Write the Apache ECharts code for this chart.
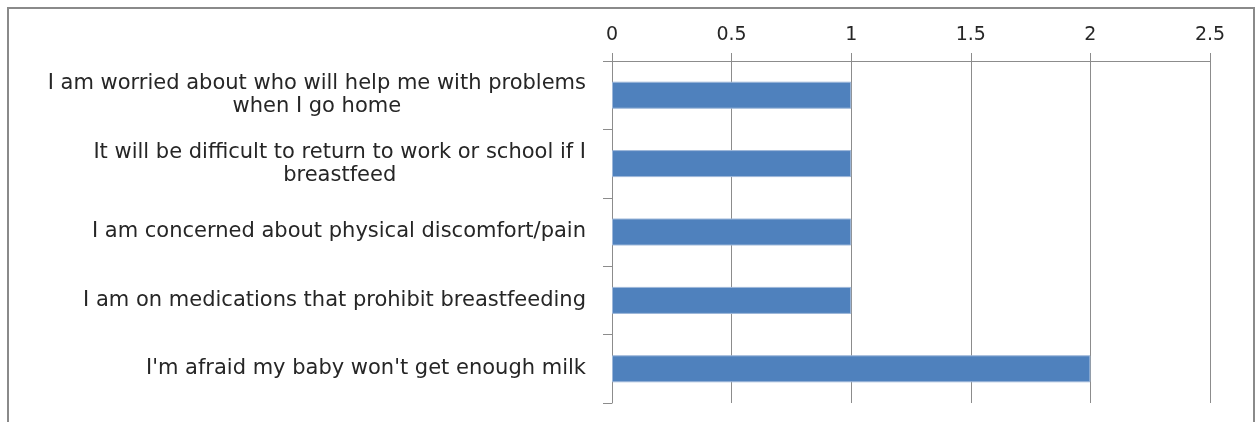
<!DOCTYPE html>
<html>
<head>
<meta charset="utf-8">
<script src="https://cdn.jsdelivr.net/npm/echarts@6/dist/echarts.min.js"></script>
<style>
  html, body { margin: 0; padding: 0; background: #fff; }
  #chart { width: 1257px; height: 422px; }
</style>
</head>
<body>
<div id="chart"></div>
<script>
// categories top to bottom
const categories = [
  "I am worried about who will help me with problems\nwhen I go home",
  "It will be difficult to return to work or school if I\nbreastfeed",
  "I am concerned about physical discomfort/pain",
  "I am on medications that prohibit breastfeeding",
  "I'm afraid my baby won't get enough milk",
];
const counts = [1, 1, 1, 1, 2];
const xTicks = [0, 0.5, 1, 1.5, 2, 2.5];

const FONT = "DejaVu Sans";
const GRAY = "#8c8c8c";

const chart = echarts.init(document.getElementById("chart"));

chart.setOption({
  animation: false,
  textStyle: { fontFamily: FONT },
  grid: { left: 612, right: 47, top: 61, bottom: 19 },
  graphic: [
    {
      type: "rect",
      shape: { x: 8, y: 8, width: 1246, height: 440 },
      style: { fill: null, stroke: "#8a8a8a", lineWidth: 2 },
      silent: true,
    },
  ],
  xAxis: {
    type: "value",
    position: "top",
    min: xTicks[0],
    max: xTicks[xTicks.length - 1],
    interval: 0.5,
    axisLine: { show: true, lineStyle: { color: GRAY, width: 1 } },
    axisTick: { show: true, length: 8, lineStyle: { color: GRAY } },
    splitLine: { show: true, lineStyle: { color: GRAY, width: 1 } },
    axisLabel: {
      color: "#262626",
      fontFamily: FONT,
      fontSize: 19,
      margin: 16,
    },
  },
  yAxis: {
    type: "category",
    inverse: true,
    data: categories,
    axisLine: { show: true, lineStyle: { color: GRAY, width: 1 } },
    axisTick: { show: true, length: 9, lineStyle: { color: GRAY } },
    axisLabel: {
      margin: 26,
      align: "right",
      formatter: (v) => v.split("\n").map((s) => "{c|" + s + "}").join("\n"),
      rich: {
        c: {
          align: "center",
          color: "#262626",
          fontFamily: FONT,
          fontSize: 21,
          lineHeight: 23,
        },
      },
    },
  },
  series: [
    {
      type: "bar",
      data: counts,
      barWidth: 27,
      itemStyle: {
        color: "#4f81bd",
        borderColor: "#9db7d9",
        borderWidth: 1,
      },
    },
  ],
});
</script>
</body>
</html>
